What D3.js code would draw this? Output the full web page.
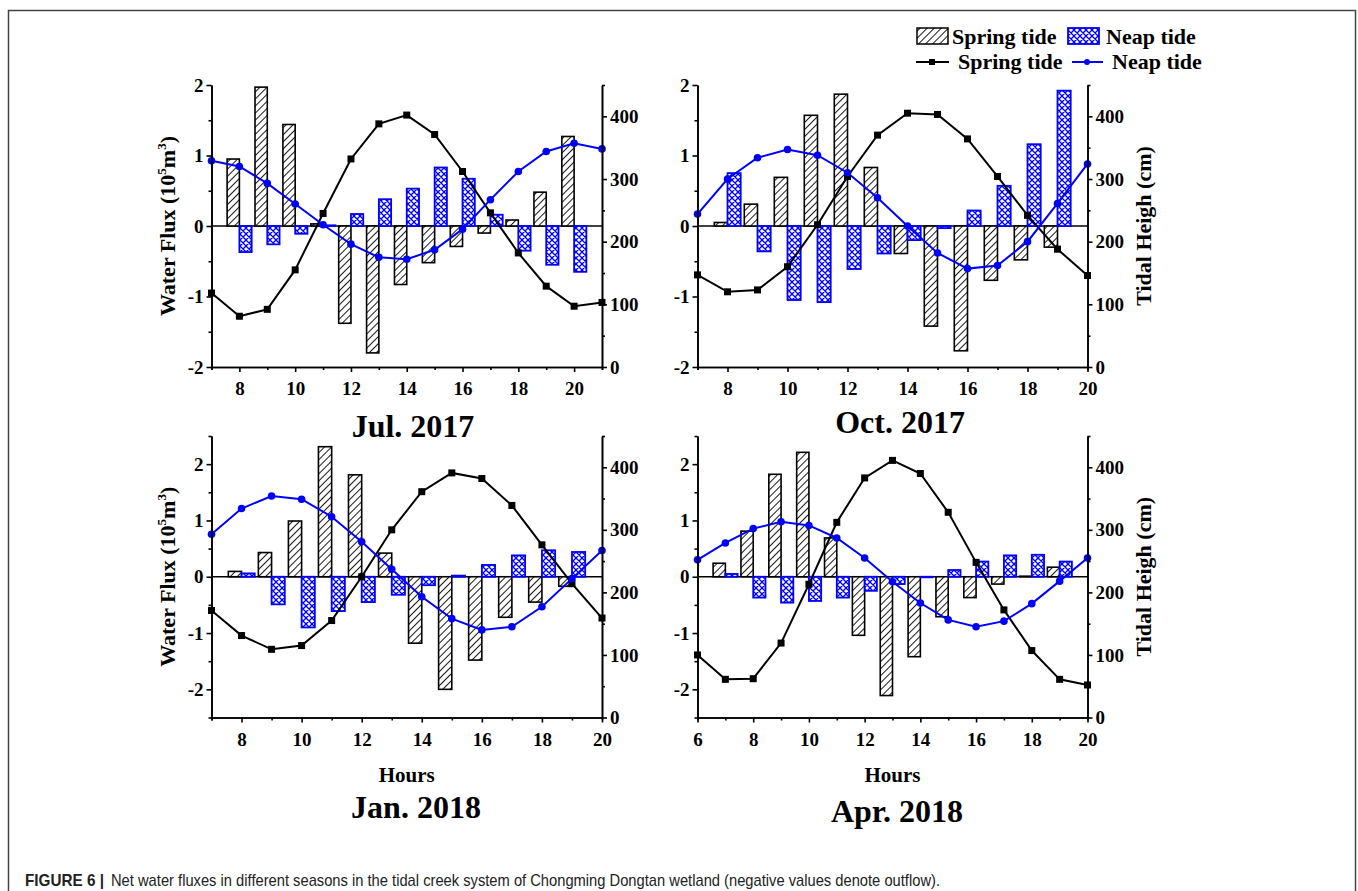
<!DOCTYPE html>
<html>
<head>
	<style>
		body { margin: 0; background: #fff; }
		text { font-family: "Liberation Serif", "Times New Roman", serif; font-weight: bold; }
		.axis path, .axis line { stroke: #000; stroke-width: 1.6; }
		.axis text { font-family: "Liberation Serif", "Times New Roman", serif; font-weight: bold; font-size: 19px; fill: #000; }
		.caption { font-family: "Liberation Sans", Arial, sans-serif; font-weight: normal; font-size: 17px; fill: #222; }
		.caption.lead { font-weight: bold; }
	</style>
</head>
<body>
	<svg id="container" width="1358" height="891"></svg>
</body>
<script src="https://d3js.org/d3.v7.min.js"></script>
<script>
	// ---- Jul. 2017 ----
	let julBarHours = [8, 9, 10, 11, 12, 13, 14, 15, 16, 17, 18, 19, 20]
	let julSpringFlux = [0.95, 1.97, 1.44, 0.03, -1.38, -1.80, -0.83, -0.52, -0.29, -0.10, 0.085, 0.48, 1.27]
	let julNeapFlux = [-0.37, -0.26, -0.11, 0.01, 0.17, 0.38, 0.53, 0.83, 0.67, 0.16, -0.35, -0.55, -0.65]
	let julLineHours = [7, 8, 9, 10, 11, 12, 13, 14, 15, 16, 17, 18, 19, 20, 21]
	let julSpringHeight = [118, 81, 92, 155, 245, 332, 388, 402, 371, 312, 246, 182, 129, 97, 103]
	let julNeapHeight = [329, 320, 293, 260, 227, 196, 175, 172, 187, 220, 267, 312, 344, 357, 348]

	// ---- Oct. 2017 ----
	let octBarHours = [8, 9, 10, 11, 12, 13, 14, 15, 16, 17, 18, 19]
	let octSpringFlux = [0.05, 0.31, 0.69, 1.57, 1.87, 0.83, -0.39, -1.42, -1.77, -0.77, -0.48, -0.30]
	let octNeapFlux = [0.75, -0.36, -1.05, -1.08, -0.61, -0.39, -0.20, -0.03, 0.22, 0.57, 1.16, 1.92]
	let octLineHours = [7, 8, 9, 10, 11, 12, 13, 14, 15, 16, 17, 18, 19, 20]
	let octSpringHeight = [147, 120, 123, 160, 227, 304, 370, 405, 403, 364, 304, 242, 188, 146]
	let octNeapHeight = [244, 300, 334, 347, 338, 310, 270, 225, 182, 157, 162, 200, 261, 324]

	// ---- Jan. 2018 ----
	let janBarHours = [8, 9, 10, 11, 12, 13, 14, 15, 16, 17, 18, 19]
	let janSpringFlux = [0.095, 0.43, 0.99, 2.31, 1.81, 0.42, -1.18, -2.0, -1.48, -0.72, -0.45, -0.17]
	let janNeapFlux = [0.06, -0.49, -0.90, -0.61, -0.45, -0.32, -0.15, 0.02, 0.21, 0.38, 0.47, 0.44]
	let janLineHours = [7, 8, 9, 10, 11, 12, 13, 14, 15, 16, 17, 18, 19, 20]
	let janSpringHeight = [171, 131, 109, 115, 155, 225, 300, 361, 391, 382, 339, 276, 214, 159]
	let janNeapHeight = [293, 334, 354, 349, 321, 281, 237, 193, 158, 140, 145, 177, 222, 267]

	// ---- Apr. 2018 ----
	let aprBarHours = [7, 8, 9, 10, 11, 12, 13, 14, 15, 16, 17, 18, 19]
	let aprSpringFlux = [0.24, 0.81, 1.82, 2.21, 0.69, -1.04, -2.11, -1.42, -0.71, -0.37, -0.13, 0.01, 0.17]
	let aprNeapFlux = [0.05, -0.37, -0.46, -0.43, -0.37, -0.25, -0.13, -0.01, 0.12, 0.27, 0.38, 0.39, 0.27]
	let aprLineHours = [6, 7, 8, 9, 10, 11, 12, 13, 14, 15, 16, 17, 18, 19, 20]
	let aprSpringHeight = [100, 61, 62, 119, 213, 312, 383, 411, 390, 328, 248, 172, 107, 61, 52]
	let aprNeapHeight = [252, 279, 302, 313, 307, 287, 255, 217, 183, 156, 145, 154, 182, 218, 255]

	let titles = ["Jul. 2017", "Oct. 2017", "Jan. 2018", "Apr. 2018"]
	let hourDomains = [[7, 21], [7, 20], [7, 20], [6, 20]]
	let fluxDomains = [[-2, 2], [-2, 2], [-2.5, 2.5], [-2.5, 2.5]]
	let fluxTicks = [-2, -1, 0, 1, 2]
	let heightDomain = [0, 450]
	let heightTicks = [0, 100, 200, 300, 400]

	let svg = d3.select("#container")

	// patterns
	let defs = svg.append("defs")
	let hatch = defs.append("pattern").attr("id", "hatch")
		.attr("patternUnits", "userSpaceOnUse").attr("width", 5).attr("height", 5)
		.attr("patternTransform", "rotate(45)")
	hatch.append("rect").attr("width", 5).attr("height", 5).attr("fill", "#fff")
	hatch.append("line").attr("x1", 0).attr("y1", 0).attr("x2", 0).attr("y2", 5)
		.attr("stroke", "#000").attr("stroke-width", 1.8)
	let cross = defs.append("pattern").attr("id", "cross")
		.attr("patternUnits", "userSpaceOnUse").attr("width", 6).attr("height", 6)
	cross.append("rect").attr("width", 6).attr("height", 6).attr("fill", "#fff")
	cross.append("path").attr("d", "M0,0L6,6M6,0L0,6M-1,5L1,7M5,-1L7,1M-1,1L1,-1M5,7L7,5")
		.attr("stroke", "#0000ff").attr("stroke-width", 1.3)

	// outer frame + caption
	svg.append("rect").attr("x", 8.5).attr("y", 10.5).attr("width", 1347).attr("height", 900)
		.attr("fill", "none").attr("stroke", "#444").attr("stroke-width", 1.5)
	svg.append("text").attr("class", "caption lead").attr("x", 25).attr("y", 886)
		.attr("textLength", 79).attr("lengthAdjust", "spacingAndGlyphs").text("FIGURE 6 |")
	svg.append("text").attr("class", "caption").attr("x", 111).attr("y", 886)
		.attr("textLength", 829).attr("lengthAdjust", "spacingAndGlyphs")
		.text("Net water fluxes in different seasons in the tidal creek system of Chongming Dongtan wetland (negative values denote outflow).")

	let panels = [
		{ bars: julBarHours, spring: julSpringFlux, neap: julNeapFlux, lineHours: julLineHours, springH: julSpringHeight, neapH: julNeapHeight },
		{ bars: octBarHours, spring: octSpringFlux, neap: octNeapFlux, lineHours: octLineHours, springH: octSpringHeight, neapH: octNeapHeight },
		{ bars: janBarHours, spring: janSpringFlux, neap: janNeapFlux, lineHours: janLineHours, springH: janSpringHeight, neapH: janNeapHeight },
		{ bars: aprBarHours, spring: aprSpringFlux, neap: aprNeapFlux, lineHours: aprLineHours, springH: aprSpringHeight, neapH: aprNeapHeight }
	]

	// plot boxes [left, top, right, bottom]
	let boxes = [[211.5, 85, 602, 367], [697.5, 85, 1087.5, 367], [211.5, 436, 602, 717.5], [697.5, 436, 1087.5, 717.5]]
	let titlePos = [[413, 437], [900, 433], [416, 818], [897, 822]]

	panels.forEach((p, i) => {
		let [l, t, r, b] = boxes[i]
		let g = svg.append("g")
		let x = d3.scaleLinear().domain(hourDomains[i]).range([l, r])
		let y = d3.scaleLinear().domain(fluxDomains[i]).range([b, t])
		let yr = d3.scaleLinear().domain(heightDomain).range([b, t])
		let bw = x(hourDomains[i][0] + 0.44) - x(hourDomains[i][0])

		// zero line
		g.append("line").attr("x1", l).attr("x2", r).attr("y1", y(0)).attr("y2", y(0))
			.attr("stroke", "#000").attr("stroke-width", 1.3)

		// bars
		g.selectAll(".sbar").data(p.bars).enter().append("rect")
			.attr("x", d => x(d) - bw)
			.attr("width", bw)
			.attr("y", (d, k) => Math.min(y(0), y(p.spring[k])))
			.attr("height", (d, k) => Math.abs(y(0) - y(p.spring[k])))
			.attr("fill", "url(#hatch)").attr("stroke", "#000").attr("stroke-width", 1.6)
		g.selectAll(".nbar").data(p.bars).enter().append("rect")
			.attr("x", d => x(d))
			.attr("width", bw)
			.attr("y", (d, k) => Math.min(y(0), y(p.neap[k])))
			.attr("height", (d, k) => Math.abs(y(0) - y(p.neap[k])))
			.attr("fill", "url(#cross)").attr("stroke", "#0000ff").attr("stroke-width", 1.8)

		// lines
		let springLine = d3.line().x((d, k) => x(d)).y((d, k) => yr(p.springH[k]))
		let neapLine = d3.line().x((d, k) => x(d)).y((d, k) => yr(p.neapH[k]))
		g.append("path").attr("d", springLine(p.lineHours)).attr("fill", "none")
			.attr("stroke", "#000").attr("stroke-width", 2)
		g.append("path").attr("d", neapLine(p.lineHours)).attr("fill", "none")
			.attr("stroke", "#0000ff").attr("stroke-width", 2)
		g.selectAll(".sq").data(p.lineHours).enter().append("rect")
			.attr("x", d => x(d) - 3.5).attr("y", (d, k) => yr(p.springH[k]) - 3.5)
			.attr("width", 7).attr("height", 7).attr("fill", "#000")
		g.selectAll(".dot").data(p.lineHours).enter().append("circle")
			.attr("cx", d => x(d)).attr("cy", (d, k) => yr(p.neapH[k]))
			.attr("r", 3.8).attr("fill", "#0000ff")

		// axes
		let [h0, h1] = hourDomains[i]
		let majorH = d3.range(h0, h1 + 1).filter(h => h % 2 == 0)
		let minorH = d3.range(h0, h1 + 1).filter(h => h % 2 == 1)
		g.append("g").attr("class", "axis").attr("transform", `translate(0,${b})`)
			.call(d3.axisBottom(x).tickValues(minorH).tickSize(3).tickFormat(""))
		g.append("g").attr("class", "axis").attr("transform", `translate(0,${b})`)
			.call(d3.axisBottom(x).tickValues(majorH).tickSize(5).tickSizeOuter(0).tickPadding(5).tickFormat(d => String(d)))
			.call(a => a.selectAll("text").attr("dy", "0.95em"))

		let [f0, f1] = fluxDomains[i]
		let minorF = d3.range(f0, f1 + 0.01, 0.5).filter(v => !fluxTicks.includes(v))
		g.append("g").attr("class", "axis").attr("transform", `translate(${l},0)`)
			.call(d3.axisLeft(y).tickValues(minorF).tickSize(3).tickSizeOuter(0).tickFormat(""))
		g.append("g").attr("class", "axis").attr("transform", `translate(${l},0)`)
			.call(d3.axisLeft(y).tickValues(fluxTicks).tickSize(5).tickSizeOuter(0).tickPadding(3).tickFormat(d => String(d)))

		g.append("g").attr("class", "axis").attr("transform", `translate(${r},0)`)
			.call(d3.axisRight(yr).tickValues([50, 150, 250, 350, 450]).tickSize(3).tickSizeOuter(0).tickFormat(""))
		g.append("g").attr("class", "axis").attr("transform", `translate(${r},0)`)
			.call(d3.axisRight(yr).tickValues(heightTicks).tickSize(5).tickSizeOuter(0).tickPadding(3).tickFormat(d => String(d)))

		// titles
		svg.append("text").attr("x", titlePos[i][0]).attr("y", titlePos[i][1])
			.attr("text-anchor", "middle").attr("font-size", 32).text(titles[i])

		let cy = (t + b) / 2
		if (i % 2 == 0) {
			let wt = svg.append("text").attr("transform", `translate(175,${cy}) rotate(-90)`)
				.attr("text-anchor", "middle").attr("font-size", 22)
			wt.append("tspan").text("Water Flux (10")
			wt.append("tspan").attr("font-size", 13).attr("dy", -9).text("5")
			wt.append("tspan").attr("dy", 9).text("m")
			wt.append("tspan").attr("font-size", 13).attr("dy", -9).text("3")
			wt.append("tspan").attr("dy", 9).text(")")
		} else {
			svg.append("text").attr("transform", `translate(1151,${cy}) rotate(-90)`)
				.attr("text-anchor", "middle").attr("font-size", 22).text("Tidal Heigh (cm)")
		}
		if (i >= 2) {
			svg.append("text").attr("x", (l + r) / 2).attr("y", 782)
				.attr("text-anchor", "middle").attr("font-size", 21).text("Hours")
		}
	})

	// legend
	let lg = svg.append("g")
	lg.append("rect").attr("x", 917).attr("y", 28).attr("width", 31).attr("height", 16)
		.attr("fill", "url(#hatch)").attr("stroke", "#000").attr("stroke-width", 1.5)
	lg.append("text").attr("x", 952).attr("y", 44).attr("font-size", 22).text("Spring tide")
	lg.append("rect").attr("x", 1068).attr("y", 28).attr("width", 31).attr("height", 16)
		.attr("fill", "url(#cross)").attr("stroke", "#0000ff").attr("stroke-width", 1.8)
	lg.append("text").attr("x", 1106).attr("y", 44).attr("font-size", 22).text("Neap tide")
	lg.append("line").attr("x1", 916).attr("x2", 949).attr("y1", 62).attr("y2", 62)
		.attr("stroke", "#000").attr("stroke-width", 2)
	lg.append("rect").attr("x", 929).attr("y", 59).attr("width", 6).attr("height", 6).attr("fill", "#000")
	lg.append("text").attr("x", 958).attr("y", 69).attr("font-size", 22).text("Spring tide")
	lg.append("line").attr("x1", 1072).attr("x2", 1103).attr("y1", 62).attr("y2", 62)
		.attr("stroke", "#0000ff").attr("stroke-width", 2)
	lg.append("circle").attr("cx", 1087).attr("cy", 62).attr("r", 3).attr("fill", "#0000ff")
	lg.append("text").attr("x", 1112).attr("y", 69).attr("font-size", 22).text("Neap tide")
</script>
</html>
